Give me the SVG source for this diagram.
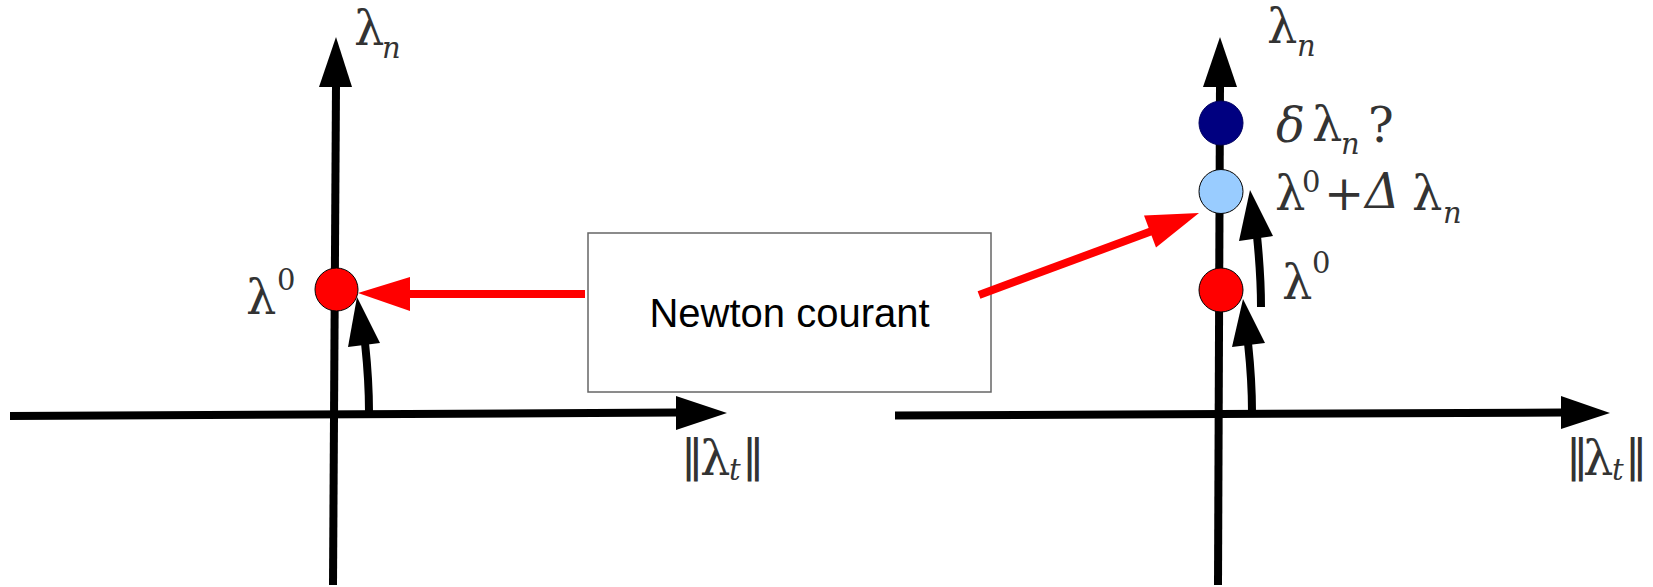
<svg xmlns="http://www.w3.org/2000/svg" width="1653" height="587" viewBox="0 0 1653 587">
  <style>
    .axis { stroke: #000; stroke-width: 8; fill: none; }
    .head { fill: #000; stroke: none; }
    .red-line { stroke: #ff0000; stroke-width: 8; fill: none; }
    .red-head { fill: #ff0000; stroke: none; }
    .m { font-family: "DejaVu Serif", "Liberation Serif", serif; fill: #333; font-size: 48px; }
    .s { font-family: "DejaVu Serif", "Liberation Serif", serif; fill: #333; font-size: 29px; }
    .i { font-style: italic; }
    .bar { font-family: "DejaVu Sans", sans-serif; fill: #333; font-size: 45px; }
    .box { fill: #fff; stroke: #666; stroke-width: 1.5; }
    .label { font-family: "Liberation Sans", Arial, sans-serif; font-size: 40px; fill: #000; }
  </style>

  <!-- left plot axes -->
  <g id="left-axes">
    <path class="axis" d="M333,585 L336,85"/>
    <polygon class="head" points="336,37 319,87 352,87"/>
    <path class="axis" d="M10,416 L678,412.5"/>
    <polygon class="head" points="727,413 676,396 676,430"/>
    <text class="m" x="354" y="45">λ</text>
    <text class="s i" x="382" y="58">n</text>
    <text class="bar" x="681" y="471">‖</text>
    <text class="m" x="700" y="475">λ</text>
    <text class="s i" x="729" y="480">t</text>
    <text class="bar" x="742" y="471">‖</text>
  </g>

  <!-- right plot axes -->
  <g id="right-axes">
    <path class="axis" d="M1218,585 L1220,85"/>
    <polygon class="head" points="1220,37 1203,87 1237,87"/>
    <path class="axis" d="M895,415.5 L1563,412.5"/>
    <polygon class="head" points="1610,413 1561,396 1561,429"/>
    <text class="m" x="1267" y="43">λ</text>
    <text class="s i" x="1297" y="56">n</text>
    <text class="bar" x="1566" y="471">‖</text>
    <text class="m" x="1583" y="475">λ</text>
    <text class="s i" x="1612" y="480">t</text>
    <text class="bar" x="1625" y="471">‖</text>
  </g>

  <!-- left: starting point -->
  <g id="left-lambda0">
    <circle cx="336.5" cy="289.5" r="21.5" fill="#ff0000" stroke="#000" stroke-width="1"/>
    <text class="m" x="246" y="314">λ</text>
    <text class="s" x="277" y="290">0</text>
  </g>

  <!-- right: points on the normal axis -->
  <g id="right-delta">
    <circle cx="1221" cy="123" r="22" fill="#000080" stroke="#000060" stroke-width="1"/>
    <text class="m i" x="1276" y="142">δ</text>
    <text class="m" x="1312" y="141">λ</text>
    <text class="s i" x="1341" y="154">n</text>
    <text class="m" x="1368" y="142">?</text>
  </g>
  <g id="right-update">
    <circle cx="1221" cy="191.5" r="22" fill="#99ccff" stroke="#000" stroke-width="1"/>
    <text class="m" x="1275" y="210">λ</text>
    <text class="s" x="1302" y="192">0</text>
    <text class="m" x="1324" y="210">+</text>
    <text class="m i" x="1365" y="208" font-size="42">Δ</text>
    <text class="m" x="1412" y="210">λ</text>
    <text class="s i" x="1443" y="223">n</text>
  </g>
  <g id="right-lambda0">
    <circle cx="1221" cy="290" r="22" fill="#ff0000" stroke="#000" stroke-width="1"/>
    <text class="m" x="1282" y="299">λ</text>
    <text class="s" x="1312" y="273">0</text>
  </g>

  <!-- central node -->
  <g id="newton">
    <rect class="box" x="588" y="233" width="403" height="159"/>
    <text class="label" x="789.5" y="327" text-anchor="middle">Newton courant</text>
  </g>

  <!-- connectors -->
  <g id="connectors">
    <path class="red-line" d="M585,294 L406,294"/>
    <polygon class="red-head" points="358,293 410,277 410,311"/>
    <path class="red-line" d="M979,295 L1152,231"/>
    <polygon class="red-head" points="1199,213 1144,215.6 1156,247.4"/>

    <path class="axis" d="M369,412 C369,380 367,362 365,343"/>
    <polygon class="head" points="357,297 348,347 380,343"/>
    <path class="axis" d="M1252,412 C1252,380 1250,362 1248,343"/>
    <polygon class="head" points="1243,299 1232,347 1265,343"/>
    <path class="axis" d="M1261,307 C1261,280 1259,256 1257,236"/>
    <polygon class="head" points="1250,190 1239,241 1273,236"/>
  </g>
</svg>
